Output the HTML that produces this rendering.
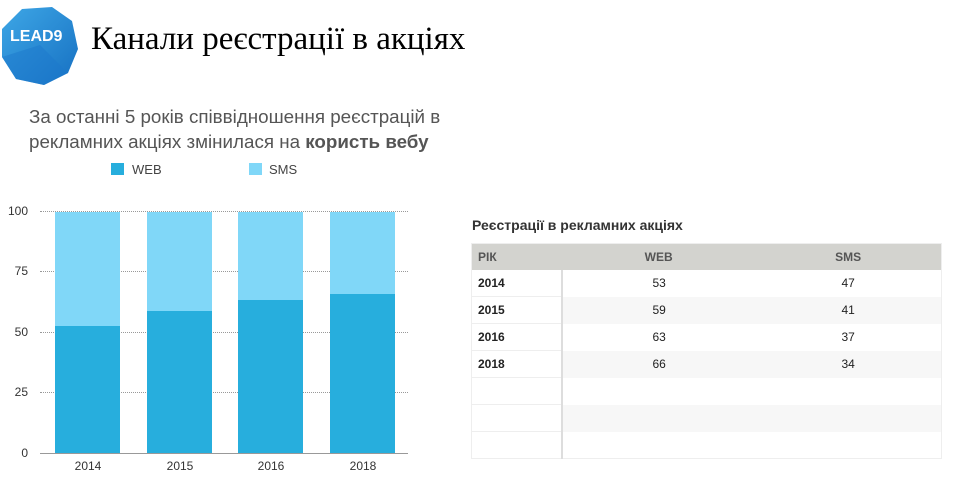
<!DOCTYPE html>
<html><head><meta charset="utf-8"><style>
body{margin:0;width:954px;height:485px;background:#fff;position:relative;overflow:hidden;font-family:"Liberation Sans",Arial,sans-serif}
.a{position:absolute}
.t{font-family:"Liberation Serif",serif;font-size:33px;color:#000;left:91px;top:21px}
.sub{left:29px;top:104px;font-size:18.8px;color:#555;line-height:25px}
.lg{font-size:13px;color:#444}
.grid{left:40px;width:368px;border-top:1px dotted #999;height:0}
.yl{font-size:12px;color:#333;width:28px;text-align:right;left:0}
.xl{font-size:12px;color:#333;width:66px;text-align:center;top:459px}
.bar{width:65px}
.web{background:#27aedd}.sms{background:#80d7f8}
table{border-collapse:collapse;font-size:12px;color:#222}
td{height:26px;padding:0 6px;}
</style></head><body>
<svg class="a" style="left:0;top:5px" width="80" height="82" viewBox="0 0 80 82">
<defs><linearGradient id="g" x1="0" y1="0" x2="1" y2="1"><stop offset="0" stop-color="#3ea7e6"/><stop offset="1" stop-color="#1670c2"/></linearGradient></defs>
<polygon points="22,4 52,2 72,16 78,44 68,68 44,80 16,74 2,52 2,24" fill="url(#g)"/>
<polygon points="2,52 40,40 68,68 44,80 16,74" fill="#1b78cc" opacity=".5"/>
<text x="10" y="36" font-family="Liberation Sans" font-weight="bold" font-size="16" fill="#fff">LEAD9</text>
</svg>
<div class="a t">Канали реєстрації в акціях</div>
<div class="a sub">За останні 5 років співвідношення реєстрацій в<br>рекламних акціях змінилася на <b>користь вебу</b></div>
<div class="a web" style="left:111px;top:163px;width:13px;height:12px"></div>
<div class="a lg" style="left:132px;top:162px">WEB</div>
<div class="a sms" style="left:249px;top:163px;width:13px;height:12px"></div>
<div class="a lg" style="left:269px;top:162px">SMS</div>

<div class="a grid" style="top:211px"></div>
<div class="a grid" style="top:271px"></div>
<div class="a grid" style="top:332px"></div>
<div class="a grid" style="top:392px"></div>
<div class="a" style="left:40px;top:453px;width:368px;border-top:1px solid #999"></div>
<div class="a yl" style="top:204px">100</div>
<div class="a yl" style="top:264px">75</div>
<div class="a yl" style="top:325px">50</div>
<div class="a yl" style="top:385px">25</div>
<div class="a yl" style="top:446px">0</div>

<div class="a bar sms" style="left:55px;top:212px;height:114px"></div>
<div class="a bar web" style="left:55px;top:326px;height:127px"></div>
<div class="a bar sms" style="left:147px;top:212px;height:99px"></div>
<div class="a bar web" style="left:147px;top:311px;height:142px"></div>
<div class="a bar sms" style="left:238px;top:212px;height:88px"></div>
<div class="a bar web" style="left:238px;top:300px;height:153px"></div>
<div class="a bar sms" style="left:330px;top:212px;height:82px"></div>
<div class="a bar web" style="left:330px;top:294px;height:159px"></div>
<div class="a xl" style="left:55px">2014</div>
<div class="a xl" style="left:147px">2015</div>
<div class="a xl" style="left:238px">2016</div>
<div class="a xl" style="left:330px">2018</div>

<div class="a" style="left:472px;top:217px;font-size:14px;font-weight:bold;color:#333">Реєстрації в рекламних акціях</div>
<table class="a" style="left:471px;top:243px;width:471px;border:1px solid #eee">
<tr style="background:#d3d3cf;color:#555;font-weight:bold"><td style="width:78px;height:26px">РІК</td><td style="text-align:center">WEB</td><td style="text-align:center">SMS</td></tr>
<tr><td style="border-right:2px solid #ddd;border-bottom:1px solid #eee"><b>2014</b></td><td style="text-align:center">53</td><td style="text-align:center">47</td></tr>
<tr style="background:#f7f7f7"><td style="background:#fff;border-right:2px solid #ddd;border-bottom:1px solid #eee"><b>2015</b></td><td style="text-align:center">59</td><td style="text-align:center">41</td></tr>
<tr><td style="border-right:2px solid #ddd;border-bottom:1px solid #eee"><b>2016</b></td><td style="text-align:center">63</td><td style="text-align:center">37</td></tr>
<tr style="background:#f7f7f7"><td style="background:#fff;border-right:2px solid #ddd;border-bottom:1px solid #eee"><b>2018</b></td><td style="text-align:center">66</td><td style="text-align:center">34</td></tr>
<tr><td style="border-right:2px solid #ddd;border-bottom:1px solid #eee"></td><td></td><td></td></tr>
<tr style="background:#f7f7f7"><td style="background:#fff;border-right:2px solid #ddd;border-bottom:1px solid #eee"></td><td></td><td></td></tr>
<tr><td style="border-right:2px solid #ddd"></td><td></td><td></td></tr>
</table>
</body></html>
